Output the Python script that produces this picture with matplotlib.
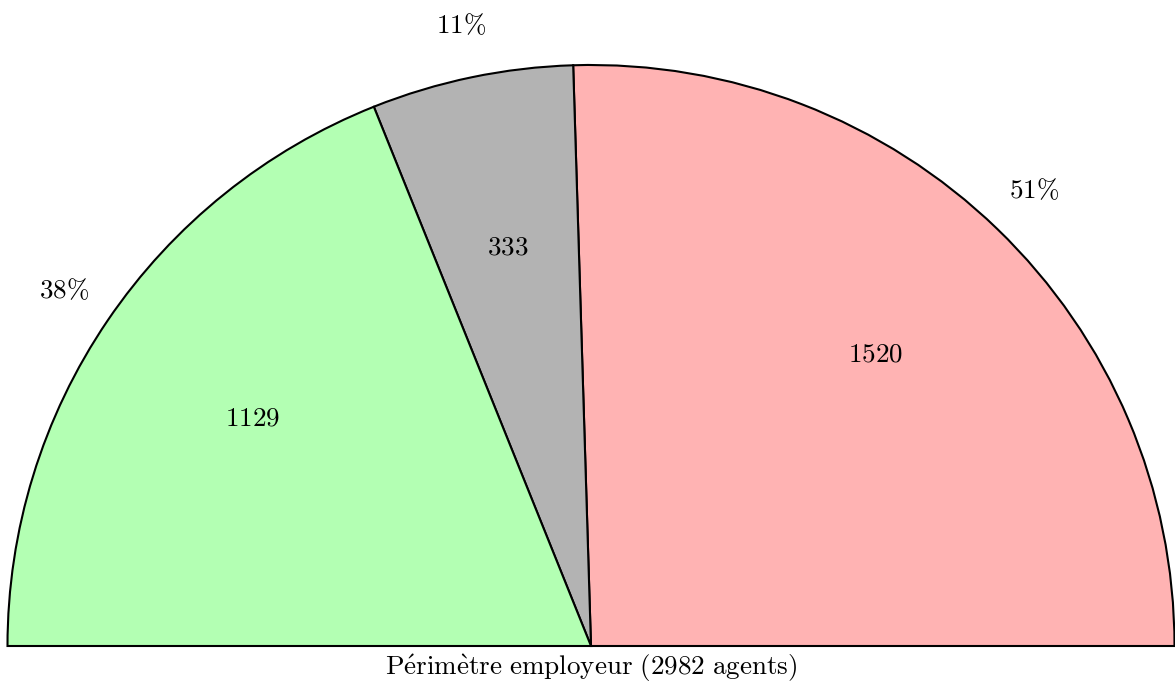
import matplotlib
matplotlib.use("Agg")
import matplotlib.pyplot as plt

plt.rcParams['mathtext.fontset'] = 'cm'

# data
values = [1520, 333, 1129]
colors = ['#FFB3B3', '#B3B3B3', '#B3FFB3']
total = sum(values)
title = r'$\mathrm{P\acute{e}rim\grave{e}tre\ employeur\ (%d\ agents)}$' % total

fig = plt.figure(figsize=(11.75, 6.89), dpi=100)
ax = fig.add_axes([0, 0, 1, 1])

# half pie: add an invisible wedge equal to the total
wedges, texts, autotexts = ax.pie(
    values + [total],
    colors=colors + ['none'],
    startangle=0,
    counterclock=True,
    radius=1,
    labels=[r'$\mathrm{%d}$' % v for v in values] + [''],
    labeldistance=0.7,
    autopct=lambda p: r'$\mathrm{%d\%%}$' % round(p * 2) if p < 50 else '',
    pctdistance=1.09,
    wedgeprops=dict(edgecolor='black', linewidth=1.5),
    textprops=dict(fontsize=19.5, ha='center', va='center'),
)
wedges[-1].set_edgecolor('none')
for t in texts:
    t.set_horizontalalignment('center')
    t.set_verticalalignment('center')

# limits chosen so the centre sits at (591, 646) px with radius ~583 px
rx = 583.5
ry = 581.0
ax.set_xlim(-591 / rx, (1175 - 591) / rx)
ax.set_ylim(-(689 - 646) / ry, 646 / ry)
ax.set_aspect('auto')
ax.axis('off')

ax.text(0, -(668 - 646) / ry, title, ha='center', va='center', fontsize=19.5)

fig.savefig('out.png', dpi=100)
